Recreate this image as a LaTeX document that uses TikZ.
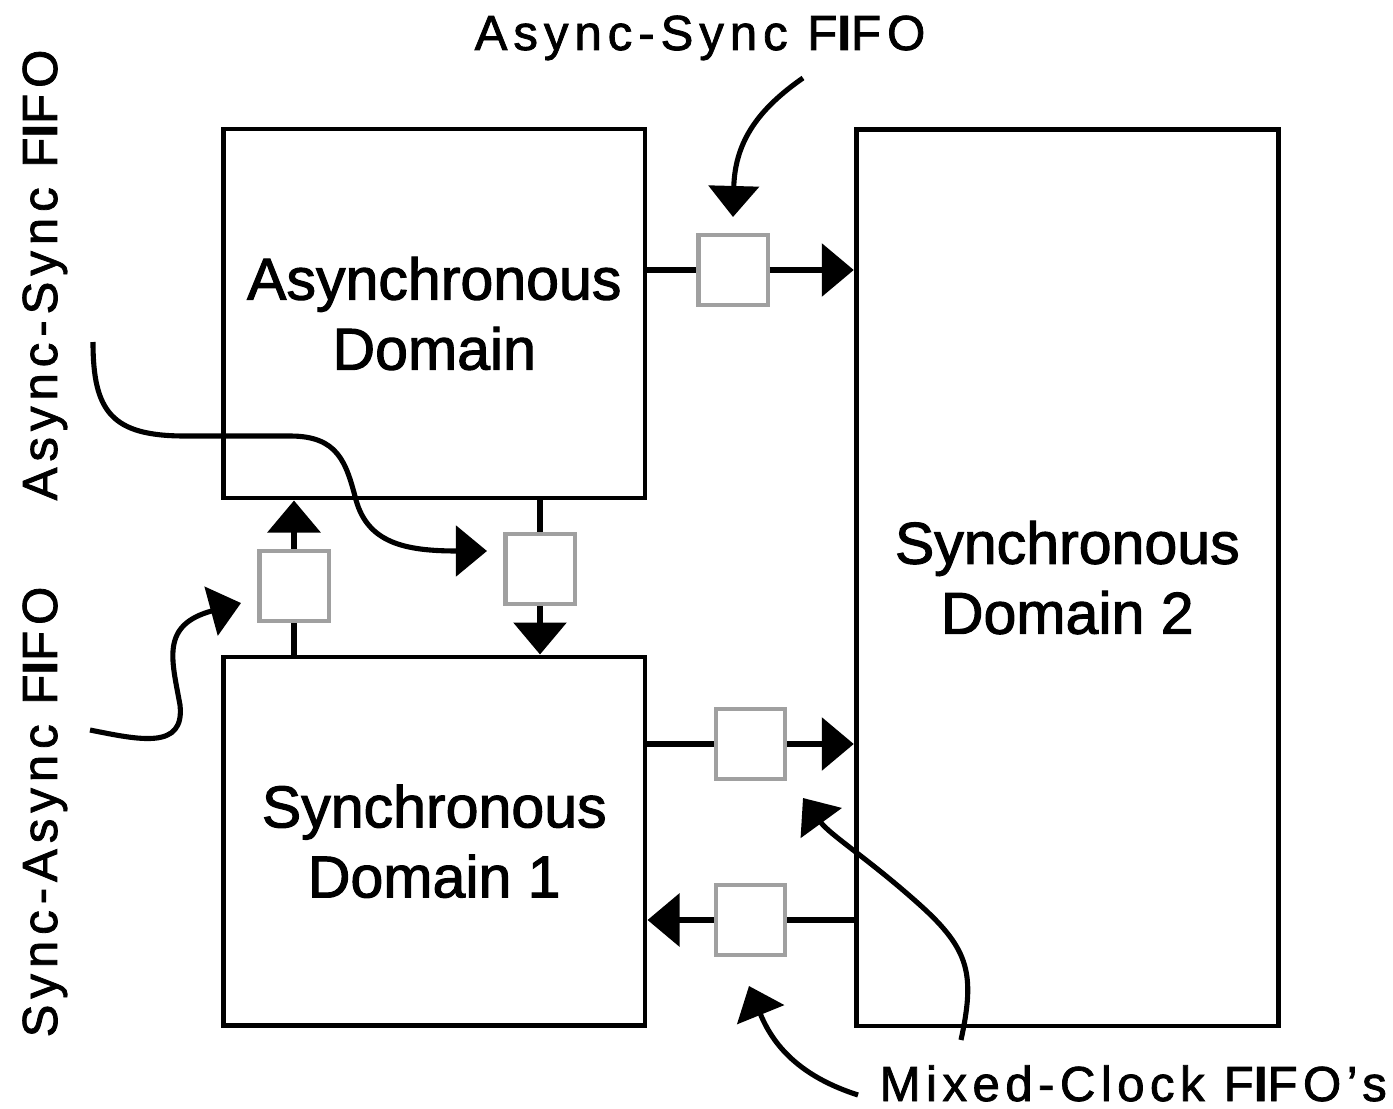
\documentclass[tikz,border=0pt]{standalone}
\usepackage{fontspec}
\setmainfont{Liberation Sans}[FakeBold=1.8]
\newfontfamily\labelfont{Liberation Sans}[LetterSpace=12,FakeBold=1.6]
\newfontfamily\mixedfont{Liberation Sans}[LetterSpace=11,FakeBold=1.6]
\usetikzlibrary{arrows.meta}
\definecolor{fifogray}{RGB}{160,160,160}
\newcommand\domainfont{\fontsize{16.8pt}{19.9pt}\selectfont}
\begin{document}
\begin{tikzpicture}[x=0.01cm,y=-0.01cm,
  domainbox/.style={draw,line width=1.35pt,minimum width=4.215cm,align=center,
                 font=\domainfont,inner sep=0pt},
  fifobox/.style={draw=fifogray,line width=1.15pt,fill=white,minimum width=0.69cm,
               minimum height=0.70cm,inner sep=0pt},
  conn/.style={line width=1.8pt},
  headtip/.style={-{Triangle[length=0.32cm,width=0.52cm]}},
  pointer/.style={line width=1.45pt,-{Triangle[length=0.31cm,width=0.50cm]}},
  lbl/.style={font=\labelfont\fontsize{14pt}{16pt}\selectfont,inner sep=0pt}]

\useasboundingbox (0,0) rectangle (1393,1109);

% clock domains
\node[domainbox,minimum height=3.69cm] (async) at (434.25,313.5) {Asynchronous\\Domain};
\node[domainbox,minimum height=3.685cm] (sync1) at (434.25,841.25) {Synchronous\\Domain 1};
\node[domainbox,minimum width=4.22cm,minimum height=8.962cm] (sync2) at (1067.3,577.6) {Synchronous\\Domain 2};

% FIFOs between the domains
\node[fifobox] (fA) at (733,270) {};
\node[fifobox] (fL) at (294,586) {};
\node[fifobox] (fM) at (540,569) {};
\node[fifobox] (fR1) at (750.5,744) {};
\node[fifobox] (fR2) at (750.5,920) {};

% data paths through the FIFOs
\draw[conn] (fA -| async.east) -- (fA.west);
\draw[conn,headtip] (fA.east) -- (fA -| sync2.west);

\draw[conn] (fL |- sync1.north) -- (fL.south);
\draw[conn,headtip] (fL.north) -- (fL |- async.south);

\draw[conn] (fM |- async.south) -- (fM.north);
\draw[conn,headtip] (fM.south) -- (fM |- sync1.north);

\draw[conn] (fR1 -| sync1.east) -- (fR1.west);
\draw[conn,headtip] (fR1.east) -- (fR1 -| sync2.west);

\draw[conn] (fR2 -| sync2.west) -- (fR2.east);
\draw[conn,headtip] (fR2.west) -- (fR2 -| sync1.east);

% labels
\node[lbl,anchor=base] (tAS) at (700,50) {Async-Sync F{\bfseries I}FO};
\node[lbl,anchor=base,rotate=90] (lAS) at (57,275) {Async-Sync F{\bfseries I}FO};
\node[lbl,anchor=base,rotate=90] (lSA) at (57,812) {Sync-Async F{\bfseries I}FO};
\node[lbl,font=\mixedfont\fontsize{14pt}{16pt}\selectfont,anchor=base west] (mix) at (879,1101) {Mixed-Clock F{\bfseries I}FO’s};

% pointers from the labels to the FIFOs
\coordinate (pA0) at (803,78);
\coordinate (pA1) at (733,217);
\draw[pointer] (pA0) .. controls (760,108) and (735,140) .. (pA1);

\coordinate (pB0) at (93,342);
\coordinate (pB1) at (487,551);
\draw[pointer] (pB0) .. controls (93,412) and (112,436) .. (185,436) -- (290,436)
  .. controls (338,436) and (346,462) .. (356,500)
  .. controls (368,543) and (405,551) .. (pB1);

\coordinate (pC0) at (90,730);
\coordinate (pC1) at (241,603);
\draw[pointer] (pC0) .. controls (140,740) and (185,750) .. (180,705)
  .. controls (172,660) and (160,625) .. (pC1);

\coordinate (pD0) at (961,1040);
\coordinate (pD1) at (803,798);
\draw[pointer] (pD0) .. controls (975,975) and (970,950) .. (920,905)
  .. controls (870,860) and (830,835) .. (pD1);

\coordinate (pE0) at (858,1095);
\coordinate (pE1) at (749,986);
\draw[pointer] (pE0) .. controls (805,1078) and (775,1050) .. (pE1);
\end{tikzpicture}
\end{document}
